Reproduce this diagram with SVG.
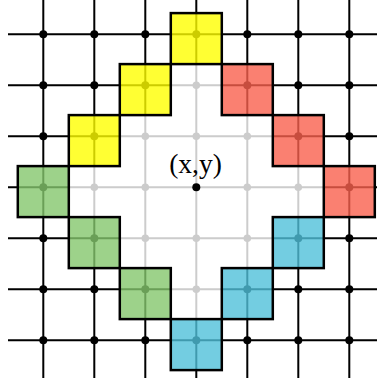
<svg xmlns="http://www.w3.org/2000/svg" width="377" height="383" viewBox="0 0 377 383">
<style>
.bl{stroke:#000;stroke-width:2;fill:none}
.gl{stroke:#cccccc;stroke-width:2;fill:none}
.bd{fill:#000}
.gd{fill:#cccccc}
.sq{stroke:#000;stroke-width:2.5;fill-opacity:0.8}
.y{fill:#ffff00}
.r{fill:#f9604e}
.b{fill:#50c0da}
.g{fill:#84c76d}
.lbl{font-family:"Liberation Serif","DejaVu Serif",serif;font-size:27.5px;fill:#000}
</style>
<defs>
<clipPath id="inner">
<polygon points="170.8,64.1 221.8,64.1 221.8,115.1 272.8,115.1 272.8,166.1 323.8,166.1 323.8,217.1 272.8,217.1 272.8,268.1 221.8,268.1 221.8,319.1 170.8,319.1 170.8,268.1 119.8,268.1 119.8,217.1 68.8,217.1 68.8,166.1 119.8,166.1 119.8,115.1 170.8,115.1"/>
</clipPath>
<g id="dotrow">
<circle cx="43.3" cy="0" r="4"/><circle cx="94.3" cy="0" r="4"/><circle cx="145.3" cy="0" r="4"/><circle cx="196.3" cy="0" r="4"/><circle cx="247.3" cy="0" r="4"/><circle cx="298.3" cy="0" r="4"/><circle cx="349.3" cy="0" r="4"/>
</g>
<path id="grid" d="M8,34.3H384M8,85.3H384M8,136.3H384M8,187.3H384M8,238.3H384M8,289.3H384M8,340.3H384M43.3,-1V378M94.3,-1V378M145.3,-1V378M196.3,-1V378M247.3,-1V378M298.3,-1V378M349.3,-1V378"/>
</defs>
<g id="connectors">
<use href="#grid" class="bl"/>
<g class="bd">
<use href="#dotrow" y="34.3"/><use href="#dotrow" y="85.3"/><use href="#dotrow" y="136.3"/><use href="#dotrow" y="187.3"/><use href="#dotrow" y="238.3"/><use href="#dotrow" y="289.3"/><use href="#dotrow" y="340.3"/>
</g>
<polygon fill="#fff" points="170.8,64.1 221.8,64.1 221.8,115.1 272.8,115.1 272.8,166.1 323.8,166.1 323.8,217.1 272.8,217.1 272.8,268.1 221.8,268.1 221.8,319.1 170.8,319.1 170.8,268.1 119.8,268.1 119.8,217.1 68.8,217.1 68.8,166.1 119.8,166.1 119.8,115.1 170.8,115.1"/>
<g clip-path="url(#inner)">
<use href="#grid" class="gl"/>
</g>
<g class="gd">
<circle cx="196.3" cy="85.3" r="3.8"/>
<circle cx="145.3" cy="136.3" r="3.8"/><circle cx="196.3" cy="136.3" r="3.8"/><circle cx="247.3" cy="136.3" r="3.8"/>
<circle cx="94.3" cy="187.3" r="3.8"/><circle cx="145.3" cy="187.3" r="3.8"/><circle cx="247.3" cy="187.3" r="3.8"/><circle cx="298.3" cy="187.3" r="3.8"/>
<circle cx="145.3" cy="238.3" r="3.8"/><circle cx="196.3" cy="238.3" r="3.8"/><circle cx="247.3" cy="238.3" r="3.8"/>
<circle cx="196.3" cy="289.3" r="3.8"/>
</g>
</g>
<g id="yellow-0-m3"><rect class="sq y" x="170.8" y="13.1" width="51" height="51"/></g>
<g id="yellow-m1-m2"><rect class="sq y" x="119.8" y="64.1" width="51" height="51"/></g>
<g id="yellow-m2-m1"><rect class="sq y" x="68.8" y="115.1" width="51" height="51"/></g>
<g id="red-1-m2"><rect class="sq r" x="221.8" y="64.1" width="51" height="51"/></g>
<g id="red-2-m1"><rect class="sq r" x="272.8" y="115.1" width="51" height="51"/></g>
<g id="red-3-0"><rect class="sq r" x="323.8" y="166.1" width="51" height="51"/></g>
<g id="blue-2-1"><rect class="sq b" x="272.8" y="217.1" width="51" height="51"/></g>
<g id="blue-1-2"><rect class="sq b" x="221.8" y="268.1" width="51" height="51"/></g>
<g id="blue-0-3"><rect class="sq b" x="170.8" y="319.1" width="51" height="51"/></g>
<g id="green-m3-0"><rect class="sq g" x="17.8" y="166.1" width="51" height="51"/></g>
<g id="green-m2-1"><rect class="sq g" x="68.8" y="217.1" width="51" height="51"/></g>
<g id="green-m1-2"><rect class="sq g" x="119.8" y="268.1" width="51" height="51"/></g>
<g id="center">
<circle class="bd" cx="196.3" cy="187.3" r="4"/>
<text class="lbl" x="195.5" y="172.5" text-anchor="middle">(x,y)</text>
</g>
</svg>
